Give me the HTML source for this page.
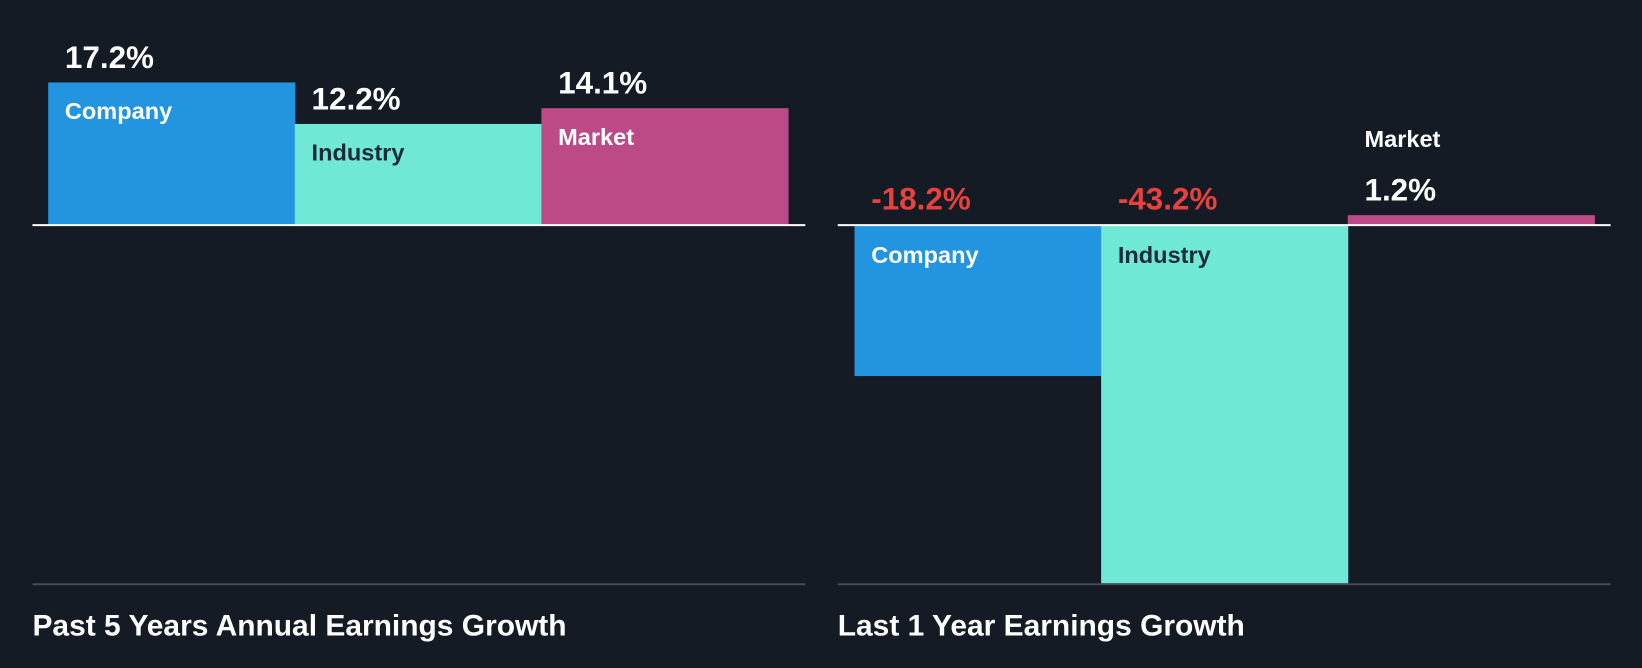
<!DOCTYPE html>
<html><head><meta charset="utf-8"><style>
html,body{margin:0;padding:0;background:#151b24;}
svg{display:block;font-family:"Liberation Sans",sans-serif;font-weight:bold;}
</style></head><body>
<svg id="c" width="1642" height="668" viewBox="0 0 1568 638" preserveAspectRatio="none" xmlns="http://www.w3.org/2000/svg">
<rect width="1568" height="638" fill="#151b24"/>
</svg>
<script>
const categories = ["Company","Industry","Market"];
const past5Values = [17.2, 12.2, 14.1];
const last1Values = [-18.2, -43.2, 1.2];
const titles = ["Past 5 Years Annual Earnings Growth","Last 1 Year Earnings Growth"];
const colors = ["#2394e0","#70e8d6","#bb4a87"];
const labelColors = ["#ffffff","#1f2a37","#ffffff"];
const NS = "http://www.w3.org/2000/svg";
const svg = document.getElementById("c");
const baseY = 215, pxPer = 7.92;
function yScale(v){ return baseY - v*pxPer; }
function mk(tag, attrs, parent){
  const e = document.createElementNS(NS, tag);
  for (const k in attrs) e.setAttribute(k, attrs[k]);
  (parent||svg).appendChild(e); return e;
}
function drawPanel(values, x0, barX0, title, key){
  const g = mk("g", {});
  
  
  const bw = 235.5;
  values.forEach((v,i)=>{
    const x = barX0 + i*bw;
    const top = Math.min(yScale(v), baseY), h = Math.abs(yScale(v)-baseY);
    const r = mk("rect", {x:x, y:top, width:bw+0.5, height:h, fill:colors[i]}, g);
    
    
    const valTxt = v.toFixed(1) + "%";
    const small = h < 45;
    let valY, catY, catFill;
    if (v >= 0) {
      valY = top - 14;
      if (small) { catY = valY - 51; catFill = "#ffffff"; }
      else { catY = top + 35; catFill = labelColors[i]; }
    } else {
      valY = baseY - 15;
      catY = baseY + 36; catFill = labelColors[i];
    }
    const vt = mk("text", {x:x+16, y:valY, fill: v<0 ? "#e8413e" : "#ffffff", "font-size":30}, g);
    vt.textContent = valTxt;
    
    
    const ct = mk("text", {x:x+16, y:catY, fill:catFill, "font-size":22.5}, g);
    ct.textContent = categories[i];
    
    
  });
  const zl = mk("line", {x1:x0, x2:x0+738, y1:baseY, y2:baseY, stroke:"#ffffff", "stroke-width":2}, g);
  
  
  const bl = mk("line", {x1:x0, x2:x0+738, y1:558, y2:558, stroke:"#474c55", "stroke-width":2}, g);
  
  
  const t = mk("text", {x:x0, y:607, fill:"#ffffff", "font-size":28.6}, g);
  t.textContent = title;
  
  
}
drawPanel(past5Values, 31, 46, titles[0], "past-5-years");
drawPanel(last1Values, 800, 816, titles[1], "last-1-year");
</script>
</body></html>
